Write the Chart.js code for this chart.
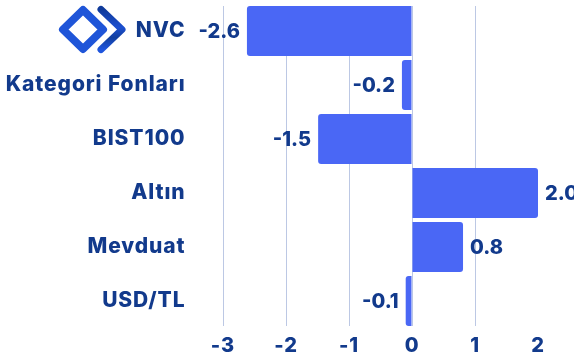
<!DOCTYPE html>
<html>
<head>
<meta charset="utf-8">
<style>
  html, body { margin: 0; padding: 0; background: #fff; overflow: hidden; }
  #wrap { position: relative; width: 574px; height: 361px; }
  #logo { position: absolute; left: 55px; top: 0; }
</style>
<script src="https://cdn.jsdelivr.net/npm/chart.js@4"></script>
</head>
<body>
<div id="wrap">
  <canvas id="chart" width="574" height="361"></canvas>
  <svg id="logo" width="80" height="60" viewBox="55 0 80 60">
    <defs>
      <linearGradient id="chev" x1="0" y1="0" x2="0" y2="1">
        <stop offset="0" stop-color="#0f3a9a"/>
        <stop offset="0.45" stop-color="#1c4fd0"/>
        <stop offset="0.7" stop-color="#123f9f"/>
        <stop offset="1" stop-color="#1f55dd"/>
      </linearGradient>
    </defs>
    <path d="M83 10 L103 29.5 L83 49 L63 29.5 Z" fill="none" stroke="#1f55d8" stroke-width="8" stroke-linejoin="round"/>
    <path d="M101 9.5 L122 29.5 L101 49.5" fill="none" stroke="url(#chev)" stroke-width="7" stroke-linecap="round" stroke-linejoin="round"/>
  </svg>
</div>
<script>
const categories = ['NVC', 'Kategori Fonları', 'BIST100', 'Altın', 'Mevduat', 'USD/TL'];
const values = [-2.62, -0.16, -1.49, 2.0, 0.81, -0.1];
const valueLabels = ['-2.6', '-0.2', '-1.5', '2.0', '0.8', '-0.1'];
const xTicks = [-3, -2, -1, 0, 1, 2];

const NAVY = '#123a8c';
const FONT = 'Inter';

// Inter is narrower than the reference face, so open the tracking up a bit.
// Has to be set here: Chart.js resizes the canvas, which wipes the context state.
const tracking = {
    id: 'tracking',
    beforeDraw(chart) {
        chart.ctx.letterSpacing = '0.9px';
    }
};

// value labels next to the bar ends
const barLabels = {
    id: 'barLabels',
    afterDatasetsDraw(chart) {
        const c = chart.ctx;
        const bars = chart.getDatasetMeta(0).data;
        c.save();
        c.letterSpacing = '0px';
        c.font = '800 20px ' + FONT;
        c.fillStyle = NAVY;
        c.textBaseline = 'middle';
        bars.forEach((bar, i) => {
            const neg = values[i] < 0;
            c.textAlign = neg ? 'right' : 'left';
            c.fillText(valueLabels[i], bar.x + (neg ? -7 : 7), bar.y + 1);
        });
        c.restore();
    }
};

// grid stops at the bar edges, not at the full plot height
const trimGrid = {
    id: 'trimGrid',
    beforeDatasetsDraw(chart) {
        const c = chart.ctx, a = chart.chartArea;
        c.save();
        c.fillStyle = '#fff';
        c.fillRect(a.left - 1, a.top - 1, a.width + 2, 3);
        c.fillRect(a.left - 1, a.bottom - 2, a.width + 2, 3);
        c.restore();
    }
};

new Chart(document.getElementById('chart'), {
    type: 'bar',
    data: {
        labels: categories,
        datasets: [{
            data: values,
            backgroundColor: '#4a67f5',
            borderRadius: 3,
            barPercentage: 50 / 54,
            categoryPercentage: 1
        }]
    },
    options: {
        indexAxis: 'y',
        responsive: false,
        animation: false,
        layout: { padding: { top: 4, right: 4.5 } },
        plugins: { legend: { display: false }, tooltip: { enabled: false } },
        scales: {
            x: {
                min: -3.5,
                max: 2.5,
                afterBuildTicks: axis => { axis.ticks = xTicks.map(v => ({ value: v })); },
                afterFit: axis => { axis.height = 33; },
                border: { display: false },
                grid: {
                    drawTicks: false,
                    lineWidth: 1,
                    color: ctx => ctx.tick && ctx.tick.value === 2 ? 'rgba(0,0,0,0)' : '#bcc8e4'
                },
                ticks: {
                    color: NAVY,
                    padding: 6,
                    maxRotation: 0,
                    font: { family: FONT, size: 20, weight: '800' }
                }
            },
            y: {
                afterFit: axis => {
                    axis.width = 191.5;
                    axis.paddingTop = 0;
                    axis.paddingBottom = 0;
                },
                border: { display: false },
                grid: { display: false, drawTicks: false },
                ticks: {
                    color: NAVY,
                    padding: 6,
                    font: { family: FONT, size: 21, weight: '800' }
                }
            }
        }
    },
    plugins: [tracking, trimGrid, barLabels]
});
</script>
</body>
</html>
